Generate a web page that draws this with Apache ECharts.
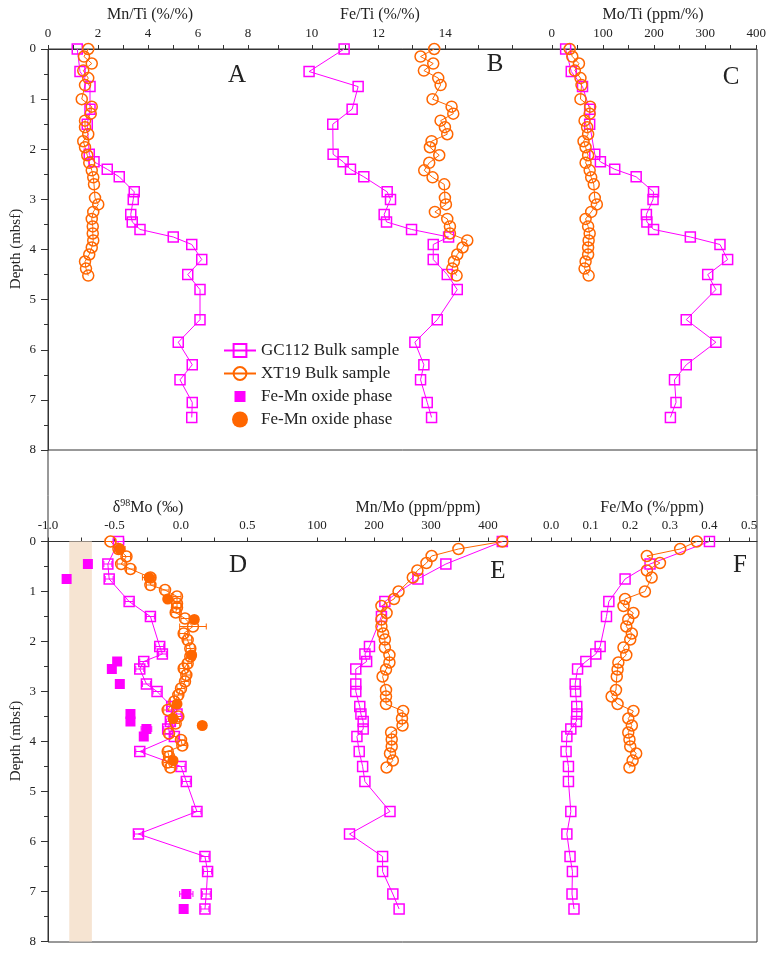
<!DOCTYPE html>
<html>
<head>
<meta charset="utf-8">
<script src="https://cdn.jsdelivr.net/npm/echarts@6.0.0/dist/echarts.min.js"></script>
<style>
html,body{margin:0;padding:0;background:#fff}
#chart{width:769px;height:954px}
</style>
</head>
<body>
<div id="chart"></div>
<script>
// GC112 core, bulk samples (depth in mbsf)
var gcDepth = [0, 0.45, 0.75, 1.2, 1.5, 2.1, 2.25, 2.4, 2.55, 2.85, 3.0, 3.3, 3.45, 3.6, 3.75, 3.9, 4.2, 4.5, 4.8, 5.4, 5.85, 6.3, 6.6, 7.05, 7.35];
var mnTiGc = [1.17, 1.28, 1.68, 1.68, 1.57, 1.65, 1.84, 2.37, 2.85, 3.45, 3.41, 3.31, 3.37, 3.68, 5.01, 5.75, 6.15, 5.59, 6.08, 6.08, 5.21, 5.77, 5.28, 5.77, 5.75];
var feTiGc = [10.97, 9.92, 11.39, 11.21, 10.63, 10.64, 10.94, 11.16, 11.56, 12.26, 12.36, 12.17, 12.24, 12.99, 14.1, 13.64, 13.64, 14.06, 14.36, 13.76, 13.09, 13.36, 13.26, 13.46, 13.59];
var moTiGc = [27, 38, 60, 74, 74, 84, 95, 123, 165, 199, 198, 185, 186, 199, 271, 329, 344, 305, 321, 263, 321, 263, 240, 243, 232];
var d98MoGc = [-0.47, -0.55, -0.54, -0.39, -0.23, -0.16, -0.14, -0.28, -0.31, -0.26, -0.18, -0.07, -0.03, -0.08, -0.1, -0.05, -0.31, 0.0, 0.04, 0.12, -0.32, 0.18, 0.2, 0.19, 0.18];
var d98MoGcErr = [0.04, 0.03, 0.03, 0.03, 0.03, 0.03, 0.03, 0.03, 0.03, 0.03, 0.03, 0.03, 0.03, 0.03, 0.03, 0.03, 0.03, 0.03, 0.03, 0.03, 0.03, 0.03, 0.03, 0.03, 0.03];
var mnMoGc = [425, 326, 277, 219, 213, 192, 184, 187, 168, 168, 168, 175, 177, 181, 181, 170, 174, 180, 184, 228, 157, 215, 215, 233, 244];
var feMoGc = [0.40, 0.25, 0.187, 0.146, 0.14, 0.124, 0.113, 0.088, 0.067, 0.061, 0.062, 0.065, 0.065, 0.064, 0.05, 0.04, 0.038, 0.044, 0.044, 0.05, 0.04, 0.048, 0.054, 0.053, 0.058];

// XT19 core, bulk samples
var xtDepth = [0, 0.15, 0.29, 0.43, 0.58, 0.72, 1.0, 1.15, 1.29, 1.43, 1.56, 1.7, 1.84, 1.96, 2.12, 2.27, 2.42, 2.56, 2.7, 2.97, 3.1, 3.25, 3.39, 3.54, 3.68, 3.82, 3.96, 4.1, 4.24, 4.38, 4.52];
var mnTiXt = [1.61, 1.44, 1.75, 1.41, 1.61, 1.48, 1.35, 1.75, 1.71, 1.48, 1.48, 1.61, 1.41, 1.48, 1.57, 1.65, 1.75, 1.81, 1.84, 1.88, 2.01, 1.81, 1.75, 1.79, 1.79, 1.81, 1.75, 1.65, 1.48, 1.52, 1.61];
var feTiXt = [13.67, 13.26, 13.64, 13.36, 13.79, 13.86, 13.62, 14.19, 14.24, 13.86, 13.99, 14.06, 13.59, 13.54, 13.82, 13.52, 13.37, 13.62, 13.97, 13.99, 14.02, 13.69, 14.06, 14.14, 14.14, 14.66, 14.52, 14.36, 14.26, 14.21, 14.34];
var moTiXt = [35, 40, 53, 45, 56, 58, 56, 75, 74, 64, 69, 71, 62, 66, 71, 66, 74, 77, 82, 84, 88, 77, 66, 71, 74, 72, 71, 71, 66, 64, 72];
var mnMoXt = [425, 348, 301, 292, 276, 268, 243, 235, 213, 222, 213, 213, 216, 219, 219, 227, 227, 221, 215, 221, 221, 221, 251, 249, 250, 230, 231, 231, 228, 233, 222];
var feMoXt = [0.368, 0.326, 0.242, 0.275, 0.242, 0.254, 0.237, 0.187, 0.183, 0.208, 0.195, 0.19, 0.204, 0.2, 0.183, 0.19, 0.17, 0.168, 0.166, 0.164, 0.153, 0.168, 0.208, 0.195, 0.204, 0.195, 0.198, 0.2, 0.215, 0.206, 0.198];

// XT19 Mo isotopes were measured on their own depth set
var xtMoDepth = [0, 0.15, 0.30, 0.45, 0.55, 0.72, 0.87, 0.97, 1.10, 1.24, 1.32, 1.42, 1.54, 1.70, 1.84, 1.97, 2.14, 2.30, 2.44, 2.54, 2.67, 2.80, 2.94, 3.07, 3.20, 3.37, 3.50, 3.64, 3.84, 3.97, 4.08, 4.20, 4.30, 4.42, 4.52];
var d98MoXt = [-0.53, -0.47, -0.41, -0.45, -0.38, -0.23, -0.23, -0.12, -0.03, -0.03, -0.03, -0.04, 0.03, 0.09, 0.02, 0.05, 0.07, 0.07, 0.05, 0.02, 0.04, 0.03, 0.0, -0.02, -0.05, -0.10, -0.02, -0.04, -0.09, 0.0, 0.01, -0.10, -0.09, -0.10, -0.08];
var d98MoXtErr = [0.04, 0.03, 0.03, 0.03, 0.03, 0.03, 0.03, 0.03, 0.03, 0.03, 0.03, 0.03, 0.03, 0.1, 0.03, 0.03, 0.03, 0.03, 0.03, 0.03, 0.03, 0.03, 0.03, 0.03, 0.03, 0.03, 0.03, 0.03, 0.03, 0.03, 0.03, 0.03, 0.03, 0.03, 0.03];

// Fe-Mn oxide phase
var gcOxDepth = [0.45, 0.75, 2.4, 2.55, 2.85, 3.45, 3.6, 3.75, 3.9, 7.05, 7.35];
var gcOxMo = [-0.70, -0.86, -0.48, -0.52, -0.46, -0.38, -0.38, -0.26, -0.28, 0.04, 0.02];
var gcOxErr = [0.02, 0.02, 0.02, 0.02, 0.02, 0.02, 0.02, 0.04, 0.02, 0.05, 0.02];
var xtOxDepth = [0.15, 0.72, 1.15, 1.56, 2.27, 3.25, 3.54, 3.68, 4.38];
var xtOxMo = [-0.46, -0.24, -0.10, 0.10, 0.08, -0.03, -0.06, 0.16, -0.06];
var xtOxErr = [0.04, 0.05, 0.02, 0.03, 0.03, 0.02, 0.02, 0.03, 0.03];

// shaded range in panel D
var bandLo = -0.84, bandHi = -0.67;

var SERIF = '"Liberation Serif", "Times New Roman", serif';
var C_GC = '#ff00ff';
var C_XT = '#ff6600';
var AX = '#333';

function steps(a, b, s) {
    var out = [];
    for (var v = a; v <= b + 1e-9; v += s) out.push(Math.round(v * 1000) / 1000);
    return out;
}

function xAx(gi, min, max, labels, ticks, digits) {
    return {
        type: 'value', gridIndex: gi, position: 'top', min: min, max: max,
        axisLine: { show: true, onZero: false, lineStyle: { color: AX, width: 1 } },
        axisTick: { show: true, inside: false, length: 4, customValues: ticks, lineStyle: { color: AX } },
        axisLabel: {
            show: true, customValues: labels, margin: 9,
            fontFamily: SERIF, fontSize: 13, color: '#222',
            formatter: function (v) { return digits ? v.toFixed(digits) : String(v); }
        },
        splitLine: { show: false }
    };
}

function yAx(gi, visible) {
    return {
        type: 'value', gridIndex: gi, inverse: true, min: 0, max: 8, interval: 1, show: visible,
        axisLine: { show: true, onZero: false, lineStyle: { color: AX } },
        axisTick: { show: true, inside: false, length: 7, lineStyle: { color: AX } },
        minorTick: { show: true, splitNumber: 2, length: 4, lineStyle: { color: AX } },
        axisLabel: { margin: 12, fontFamily: SERIF, fontSize: 13, color: '#222' },
        splitLine: { show: false }, minorSplitLine: { show: false }
    };
}

function zip(vals, depths) {
    return vals.map(function (v, i) { return [v, depths[i]]; });
}

function bulk(name, gi, vals, depths, color, symbol, size) {
    return {
        type: 'line', name: name, xAxisIndex: gi, yAxisIndex: gi,
        data: zip(vals, depths), symbol: symbol, symbolSize: size, showAllSymbol: true,
        lineStyle: { color: color, width: 1 },
        itemStyle: { color: 'rgba(255,255,255,0)', borderColor: color, borderWidth: 1.5 },
        emphasis: { disabled: true }, z: 3
    };
}

function errBars(gi, vals, depths, errs, color) {
    return {
        type: 'custom', xAxisIndex: gi, yAxisIndex: gi, silent: true, z: 2,
        data: vals.map(function (v, i) { return [v, depths[i], errs[i]]; }),
        renderItem: function (params, api) {
            var x = api.value(0), d = api.value(1), e = api.value(2);
            var a = api.coord([x - e, d]), b = api.coord([x + e, d]);
            var st = { stroke: color, lineWidth: 1 };
            return {
                type: 'group', children: [
                    { type: 'line', shape: { x1: a[0], y1: a[1], x2: b[0], y2: b[1] }, style: st },
                    { type: 'line', shape: { x1: a[0], y1: a[1] - 3, x2: a[0], y2: a[1] + 3 }, style: st },
                    { type: 'line', shape: { x1: b[0], y1: b[1] - 3, x2: b[0], y2: b[1] + 3 }, style: st }
                ]
            };
        }
    };
}

function label(text, x, y, size, rich) {
    var st = { text: text, x: 0, y: 0, font: size + 'px ' + SERIF, fill: '#222', align: 'center', verticalAlign: 'middle' };
    if (rich) st.rich = rich;
    return { type: 'text', x: x, y: y, silent: true, style: st };
}

var chart = echarts.init(document.getElementById('chart'));

var GC = 'GC112 Bulk sample', XT = 'XT19 Bulk sample';
var OX_GC = 'Fe-Mn oxide phase', OX_XT = 'Fe-Mn oxide phase ';

var series = [
    bulk(GC, 0, mnTiGc, gcDepth, C_GC, 'rect', 10),
    bulk(XT, 0, mnTiXt, xtDepth, C_XT, 'circle', 11),
    bulk(GC, 1, feTiGc, gcDepth, C_GC, 'rect', 10),
    bulk(XT, 1, feTiXt, xtDepth, C_XT, 'circle', 11),
    bulk(GC, 2, moTiGc, gcDepth, C_GC, 'rect', 10),
    bulk(XT, 2, moTiXt, xtDepth, C_XT, 'circle', 11),
    bulk(GC, 3, d98MoGc, gcDepth, C_GC, 'rect', 10),
    bulk(XT, 3, d98MoXt, xtMoDepth, C_XT, 'circle', 11),
    {
        type: 'scatter', name: OX_GC, xAxisIndex: 3, yAxisIndex: 3,
        data: zip(gcOxMo, gcOxDepth), symbol: 'rect', symbolSize: 10,
        itemStyle: { color: C_GC, opacity: 1 }, z: 4
    },
    {
        type: 'scatter', name: OX_XT, xAxisIndex: 3, yAxisIndex: 3,
        data: zip(xtOxMo, xtOxDepth), symbol: 'circle', symbolSize: 11,
        itemStyle: { color: C_XT, opacity: 1 }, z: 4
    },
    errBars(3, d98MoGc, gcDepth, d98MoGcErr, C_GC),
    errBars(3, d98MoXt, xtMoDepth, d98MoXtErr, C_XT),
    errBars(3, gcOxMo, gcOxDepth, gcOxErr, C_GC),
    errBars(3, xtOxMo, xtOxDepth, xtOxErr, C_XT),
    bulk(GC, 4, mnMoGc, gcDepth, C_GC, 'rect', 10),
    bulk(XT, 4, mnMoXt, xtDepth, C_XT, 'circle', 11),
    bulk(GC, 5, feMoGc, gcDepth, C_GC, 'rect', 10),
    bulk(XT, 5, feMoXt, xtDepth, C_XT, 'circle', 11)
];

// beige reference band behind panel D
series[7].markArea = {
    silent: true, itemStyle: { color: '#f6e4d2' },
    data: [[{ xAxis: bandLo, yAxis: 0 }, { xAxis: bandHi, yAxis: 8 }]]
};

// small filled square inside a 16px box for the legend
var squareIcon = 'path://M0,0L16,0L16,0ZM0,16L16,16L16,16ZM2.5,2.5L13.5,2.5L13.5,13.5L2.5,13.5Z';

chart.setOption({
    animation: false,
    backgroundColor: '#fff',
    textStyle: { fontFamily: SERIF },
    grid: [
        { left: 48, top: 49, width: 200, height: 401 },
        { left: 245, top: 49, width: 267, height: 401 },
        { left: 512, top: 49, width: 245, height: 401 },
        { left: 48, top: 541.5, width: 212, height: 400 },
        { left: 260, top: 541.5, width: 256, height: 400 },
        { left: 516, top: 541.5, width: 241, height: 400 }
    ],
    xAxis: [
        xAx(0, 0, 8, [0, 2, 4, 6, 8], steps(0, 8, 1), 0),
        xAx(1, 8, 16, [10, 12, 14], steps(9, 16, 1), 0),
        xAx(2, -78, 400, [0, 100, 200, 300, 400], steps(0, 400, 50), 0),
        xAx(3, -1, 0.594, [-1, -0.5, 0, 0.5], steps(-1, 0.5, 0.25), 1),
        xAx(4, 0, 449, [100, 200, 300, 400], steps(100, 450, 50), 0),
        xAx(5, -0.0884, 0.52, [0, 0.1, 0.2, 0.3, 0.4, 0.5], steps(-0.05, 0.5, 0.05), 1)
    ],
    yAxis: [yAx(0, true), yAx(1, false), yAx(2, false), yAx(3, true), yAx(4, false), yAx(5, false)],
    legend: {
        orient: 'vertical', left: 218, top: 337, itemGap: 6, itemWidth: 32, itemHeight: 16,
        selectedMode: false,
        data: [GC, XT, { name: OX_GC, icon: squareIcon }, OX_XT],
        textStyle: { fontFamily: SERIF, fontSize: 17, color: '#222' }
    },
    graphic: [
        { type: 'rect', silent: true, z: 0, shape: { x: 48, y: 49, width: 709, height: 893 }, style: { fill: 'none', stroke: AX, lineWidth: 1 } },
        { type: 'line', silent: true, shape: { x1: 48, y1: 450, x2: 757, y2: 450 }, style: { stroke: AX, lineWidth: 1 } },
        label('Mn/Ti (%/%)', 150, 15, 16),
        label('Fe/Ti (%/%)', 380, 15, 16),
        label('Mo/Ti (ppm/%)', 653, 15, 16),
        label('{n|δ}{s|98}{n|Mo (‰)}', 148, 508, 16, {
            n: { fontFamily: SERIF, fontSize: 16, color: '#222' },
            s: { fontFamily: SERIF, fontSize: 10, color: '#222', padding: [0, 0, 9, 0] }
        }),
        label('Mn/Mo (ppm/ppm)', 418, 508, 16),
        label('Fe/Mo (%/ppm)', 652, 508, 16),
        label('A', 237, 75, 25),
        label('B', 495, 64, 25),
        label('C', 731, 77, 25),
        label('D', 238, 565, 25),
        label('E', 498, 571, 25),
        label('F', 740, 565, 25),
        { type: 'text', silent: true, x: 16, y: 249, rotation: Math.PI / 2, style: { text: 'Depth (mbsf)', font: '15px ' + SERIF, fill: '#222', align: 'center', verticalAlign: 'middle' } },
        { type: 'text', silent: true, x: 16, y: 741, rotation: Math.PI / 2, style: { text: 'Depth (mbsf)', font: '15px ' + SERIF, fill: '#222', align: 'center', verticalAlign: 'middle' } }
    ],
    series: series
});
</script>
</body>
</html>
